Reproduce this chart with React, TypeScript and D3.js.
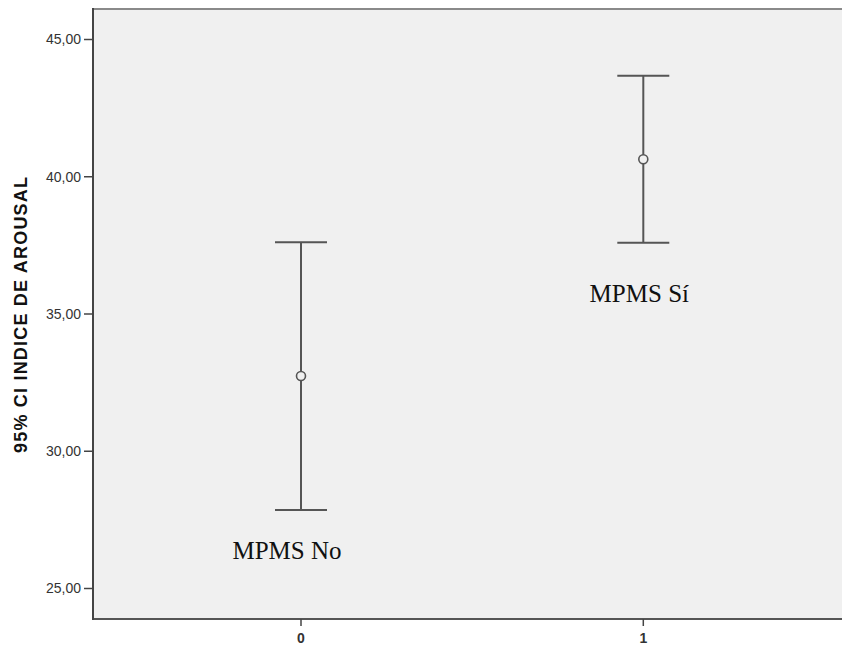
import React from "react";
import * as d3 from "d3";

const categories = [0, 1];
const means = [32.74, 40.64];
const lowerCI = [27.86, 37.6];
const upperCI = [37.61, 43.68];
const groupLabels = ["MPMS No", "MPMS Sí"];
const yTicks = [25, 30, 35, 40, 45];
const yTitle = "95% CI INDICE DE AROUSAL";

const W = 842;
const H = 646;
const left = 93;
const top = 9;
const bottom = 619;
const right = 842;

export default function App() {
  const y = d3.scaleLinear().domain([25, 45]).range([588.5, 39.5]);
  const x = d3.scaleLinear().domain([0, 1]).range([301, 643.3]);
  const fmt = (v: number) => d3.format(".2f")(v).replace(".", ",");
  const capHalf = 26;
  const labelOffsets = [
    { dx: -14, y: 559 },
    { dx: -4, y: 301.5 },
  ];
  return (
    <div style={{ position: "absolute", left: 0, top: 0 }}>
      <svg width={W} height={H} style={{ display: "block", background: "#fff" }}>
        <rect x={left} y={top} width={right - left} height={bottom - top} fill="#f0f0f0" />
        <line x1={left} x2={right} y1={top} y2={top} stroke="#8a8a8a" strokeWidth={2} />
        <line x1={left} x2={right} y1={bottom} y2={bottom} stroke="#555" strokeWidth={2} />
        <line x1={left} x2={left} y1={top - 1} y2={bottom + 1} stroke="#444" strokeWidth={2} />
        {yTicks.map((t) => (
          <g key={t}>
            <line x1={left - 9} x2={left} y1={y(t)} y2={y(t)} stroke="#444" strokeWidth={1.5} />
            <text
              x={left - 12}
              y={y(t)}
              dy="0.35em"
              textAnchor="end"
              fontFamily="Liberation Sans, Arial, sans-serif"
              fontSize={14}
              fill="#333"
            >
              {fmt(t)}
            </text>
          </g>
        ))}
        {categories.map((c) => (
          <g key={c}>
            <line x1={x(c)} x2={x(c)} y1={bottom} y2={bottom + 7} stroke="#444" strokeWidth={1.5} />
            <text
              x={x(c)}
              y={bottom + 19}
              dy="0.35em"
              textAnchor="middle"
              fontFamily="Liberation Sans, Arial, sans-serif"
              fontSize={14}
              fontWeight="bold"
              fill="#333"
            >
              {String(c)}
            </text>
          </g>
        ))}
        <text
          transform={`translate(27, 315) rotate(-90)`}
          textAnchor="middle"
          fontFamily="Liberation Sans, Arial, sans-serif"
          fontSize={18}
          fontWeight="bold"
          fill="#111"
          textLength={276}
          lengthAdjust="spacing"
        >
          {yTitle}
        </text>
        {categories.map((c, i) => (
          <g key={"eb" + c} stroke="#555" strokeWidth={2} fill="none">
            <line x1={x(c)} x2={x(c)} y1={y(upperCI[i])} y2={y(lowerCI[i])} />
            <line x1={x(c) - capHalf} x2={x(c) + capHalf} y1={y(upperCI[i])} y2={y(upperCI[i])} />
            <line x1={x(c) - capHalf} x2={x(c) + capHalf} y1={y(lowerCI[i])} y2={y(lowerCI[i])} />
            <circle cx={x(c)} cy={y(means[i])} r={4.5} fill="#f0f0f0" strokeWidth={1.6} />
          </g>
        ))}
        {categories.map((c, i) => (
          <text
            key={"lab" + c}
            x={x(c) + labelOffsets[i].dx}
            y={labelOffsets[i].y}
            textAnchor="middle"
            fontFamily="Liberation Serif, Times New Roman, serif"
            fontSize={25}
            fill="#111"
          >
            {groupLabels[i]}
          </text>
        ))}
      </svg>
    </div>
  );
}
